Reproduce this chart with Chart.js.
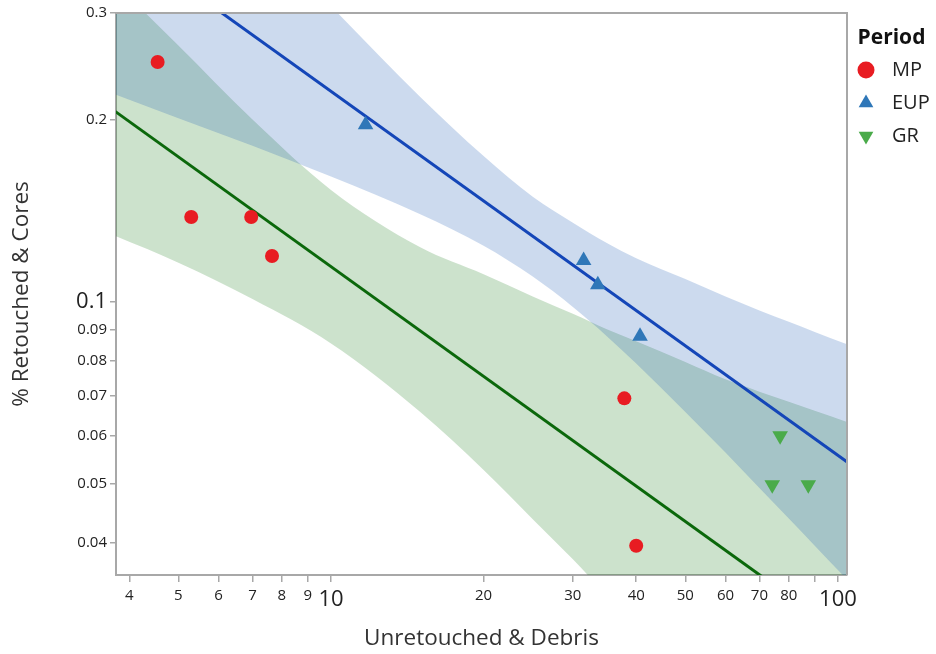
<!DOCTYPE html>
<html>
<head>
<meta charset="utf-8">
<script src="https://cdn.jsdelivr.net/npm/chart.js@4.4.0/dist/chart.umd.min.js"></script>
<style>
  html, body { margin: 0; padding: 0; background: #fff; }
  #wrap { width: 936px; height: 654px; position: relative; }
</style>
</head>
<body>
<div id="wrap"><canvas id="myChart"></canvas></div>
<script>
// points
const mpX = [4.55, 5.3, 6.96, 7.65, 37.9, 40.0];
const mpY = [0.249, 0.138, 0.138, 0.119, 0.0692, 0.0395];
const eupX = [11.7, 31.5, 33.6, 40.7];
const eupY = [0.196, 0.117, 0.1066, 0.0877];
const grX = [76.9, 74.2, 87.4];
const grY = [0.060, 0.0498, 0.0498];

// fit lines (end points)
const blueFitX = [3.7, 105];
const blueFitY = [0.405, 0.0541];
const greenFitX = [3.7, 105];
const greenFitY = [0.208, 0.0277];

// confidence bands
const bandX = [3.7, 5, 7, 10, 15, 20, 25, 30, 35, 40, 50, 60, 70, 80, 90, 105];
const blueUpper = [0.743, 0.568, 0.421, 0.308, 0.218, 0.174, 0.149, 0.135, 0.125, 0.118, 0.109, 0.102, 0.0967, 0.0926, 0.0891, 0.0848];
const blueLower = [0.221, 0.201, 0.181, 0.161, 0.1395, 0.1237, 0.110, 0.098, 0.0877, 0.079, 0.0657, 0.0563, 0.0492, 0.0438, 0.0395, 0.0345];
const greenUpper = [0.340, 0.265, 0.200, 0.153, 0.123, 0.111, 0.102, 0.0955, 0.090, 0.086, 0.0795, 0.0744, 0.071, 0.0683, 0.066, 0.0631];
const greenLower = [0.129, 0.116, 0.101, 0.0853, 0.0657, 0.0527, 0.0437, 0.0375, 0.0327, 0.0291, 0.0239, 0.0203, 0.0177, 0.0158, 0.0142, 0.0124];

// ticks
const xTicks = [4, 5, 6, 7, 8, 9, 10, 20, 30, 40, 50, 60, 70, 80, 90, 100];
const xTickLabels = ["4", "5", "6", "7", "8", "9", "10", "20", "30", "40", "50", "60", "70", "80", "", "100"];
const yTicks = [0.04, 0.05, 0.06, 0.07, 0.08, 0.09, 0.1, 0.2, 0.3];
const yTickLabels = ["0.04", "0.05", "0.06", "0.07", "0.08", "0.09", "0.1", "0.2", "0.3"];

function pts(xs, ys) {
  return xs.map((x, i) => ({ x: x, y: ys[i] }));
}

Chart.defaults.font.family = "'Open Sans', sans-serif";

const axisGray = "#A8A8A8";

const legendWidth = {
  id: "legendWidth",
  afterInit(chart) {
    const lg = chart.legend;
    const fit = lg.fit;
    lg.fit = function () {
      fit.call(this);
      this.width = 89;
    };
  },
};

const frame = {
  id: "frame",
  afterDatasetsDraw(chart) {
    const { ctx, chartArea: a } = chart;
    ctx.save();
    ctx.strokeStyle = axisGray;
    ctx.lineWidth = 2;
    ctx.beginPath();
    ctx.moveTo(a.left, a.top);
    ctx.lineTo(a.right, a.top);
    ctx.lineTo(a.right, a.bottom);
    ctx.stroke();
    ctx.restore();
  },
};

const band = (ys, fill, color) => ({
  label: "",
  data: pts(bandX, ys),
  showLine: true,
  borderWidth: 0,
  pointRadius: 0,
  cubicInterpolationMode: "monotone",
  fill: fill,
  backgroundColor: color,
});

const data = {
  datasets: [
    {
      label: "MP",
      data: pts(mpX, mpY),
      showLine: false,
      pointStyle: "circle",
      pointRadius: 7,
      borderWidth: 0,
      backgroundColor: "#E81C22",
      borderColor: "#E81C22",
    },
    {
      label: "EUP",
      data: pts(eupX, eupY),
      showLine: false,
      pointStyle: "triangle",
      pointRadius: 9,
      borderWidth: 0,
      backgroundColor: "#2F77B8",
      borderColor: "#2F77B8",
    },
    {
      label: "GR",
      data: pts(grX, grY),
      showLine: false,
      pointStyle: "triangle",
      rotation: 180,
      pointRadius: 9,
      borderWidth: 0,
      backgroundColor: "#4AAB4A",
      borderColor: "#4AAB4A",
    },
    {
      label: "EUP fit",
      data: pts(blueFitX, blueFitY),
      borderColor: "#1446B8",
      borderWidth: 3,
      pointRadius: 0,
      clip: 0,
    },
    {
      label: "MP fit",
      data: pts(greenFitX, greenFitY),
      borderColor: "#0B680B",
      borderWidth: 3,
      pointRadius: 0,
      clip: 0,
    },
    band(blueUpper, "+1", "rgba(23, 86, 177, 0.22)"),
    band(blueLower, false, "rgba(0,0,0,0)"),
    band(greenUpper, "+1", "rgba(0, 110, 0, 0.2)"),
    band(greenLower, false, "rgba(0,0,0,0)"),
  ],
};

const bigX = (v) => v === 10 || v === 100;

const config = {
  type: "line",
  data: data,
  options: {
    responsive: true,
    maintainAspectRatio: false,
    animation: false,
    layout: { padding: { left: 0, top: 13, right: 0, bottom: 0 } },
    plugins: {
      filler: { drawTime: "beforeDatasetsDraw" },
      tooltip: { enabled: false },
      legend: {
        position: "right",
        align: "start",
        title: {
          display: true,
          text: "Period",
          position: "center",
          color: "#111",
          font: { size: 21, weight: "bold", lineHeight: 0.9 },
          padding: { top: 15, bottom: 0 },
        },
        labels: {
          usePointStyle: true,
          boxWidth: 12,
          boxHeight: 12,
          padding: 13,
          color: "#222",
          font: { size: 20 },
          generateLabels: (chart) => {
            const items = Chart.defaults.plugins.legend.labels.generateLabels(chart);
            return items
              .filter((it) => it.datasetIndex < 3)
              .map((it) => {
                it.text = "\u2002" + it.text;
                return it;
              });
          },
        },
      },
    },
    scales: {
      x: {
        type: "logarithmic",
        min: 3.766,
        max: 104.2,
        afterFit: (s) => {
          s.height = 79;
        },
        afterBuildTicks: (s) => {
          s.ticks = xTicks.map((v) => ({ value: v }));
        },
        ticks: {
          autoSkip: false,
          maxRotation: 0,
          padding: 5,
          color: "#222",
          callback: (v, i) => xTickLabels[i],
          font: (ctx) => ({ size: ctx.tick && bigX(ctx.tick.value) ? 22 : 15 }),
        },
        grid: { drawOnChartArea: false, tickLength: 7, tickColor: axisGray, lineWidth: 1.5 },
        border: { color: axisGray, width: 2 },
        title: {
          display: true,
          text: "Unretouched & Debris",
          color: "#333",
          font: { size: 22.5 },
          padding: { top: 0, bottom: 2 },
        },
      },
      y: {
        type: "logarithmic",
        min: 0.03533,
        max: 0.3,
        afterFit: (s) => {
          s.width = 116;
        },
        afterBuildTicks: (s) => {
          s.ticks = yTicks.map((v) => ({ value: v }));
        },
        ticks: {
          autoSkip: false,
          padding: 3,
          color: "#222",
          callback: (v, i) => yTickLabels[i],
          font: (ctx) => ({ size: ctx.tick && ctx.tick.value === 0.1 ? 22 : 15 }),
        },
        grid: { drawOnChartArea: false, tickLength: 6, tickColor: axisGray, lineWidth: 1.5 },
        border: { color: axisGray, width: 2 },
        title: {
          display: true,
          text: "% Retouched & Cores",
          color: "#333",
          font: { size: 22.5 },
          padding: { top: 8, bottom: 0 },
        },
      },
    },
  },
  plugins: [legendWidth, frame],
};

const myChart = new Chart(document.getElementById("myChart"), config);
</script>
</body>
</html>
